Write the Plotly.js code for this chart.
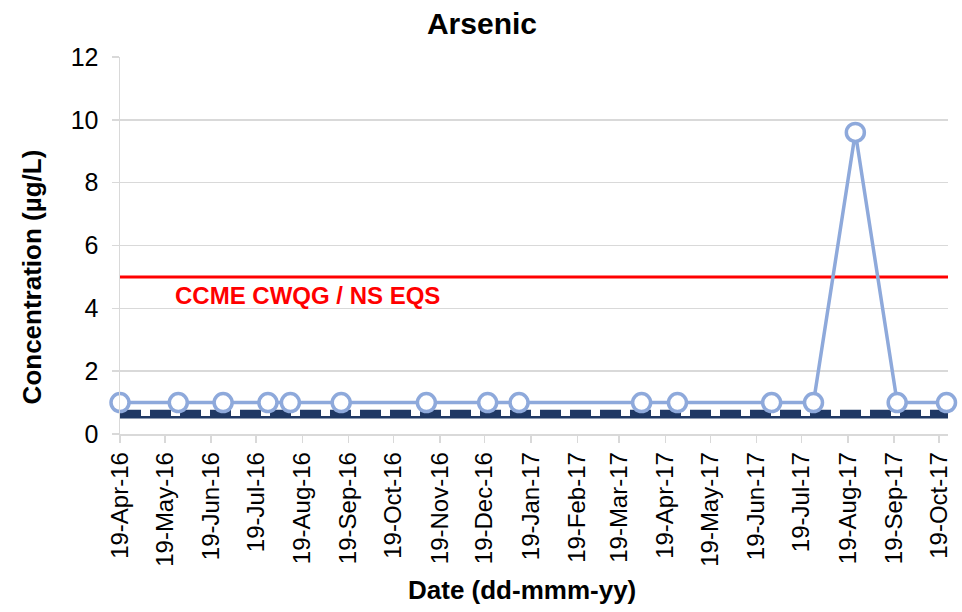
<!DOCTYPE html>
<html>
<head>
<meta charset="utf-8">
<script src="https://cdn.plot.ly/plotly-3.0.1.min.js"></script>
<style>html,body{margin:0;padding:0;background:#fff;}#chart{width:962px;height:612px;}</style>
</head>
<body>
<div id="chart"></div>
<script>
// Sample dates and arsenic concentrations (µg/L)
const sampleDates = ['2016-04-19','2016-05-28','2016-06-27','2016-07-27','2016-08-11','2016-09-14','2016-11-10','2016-12-21','2017-01-11','2017-04-03','2017-04-27','2017-06-29','2017-07-27','2017-08-24','2017-09-21','2017-10-24'];
const arsenic = [1,1,1,1,1,1,1,1,1,1,1,1,1,9.6,1,1];

// Axis extent (dates)
const axisStart = '2016-04-19';
const axisEnd = '2017-10-25';

// Guideline and detection limit lines
const guidelineX = [axisStart, axisEnd];
const guidelineY = [5, 5];
const detectDashY = [0.66, 0.66];
const detectSolidY = [0.53, 0.53];

const guidelineLabel = 'CCME CWQG / NS EQS';
const chartTitle = 'Arsenic';
const xTitle = 'Date (dd-mmm-yy)';
const yTitle = 'Concentration (µg/L)';
const yTickVals = [0,2,4,6,8,10,12];

const font = 'Liberation Sans, Arial, sans-serif';

const traces = [
  {x: guidelineX, y: detectSolidY, mode: 'lines', line: {color: '#1F3864', width: 2.5}, hoverinfo: 'skip', showlegend: false},
  {x: guidelineX, y: detectDashY, mode: 'lines', line: {color: '#1F3864', width: 7, dash: '21px,9px'}, hoverinfo: 'skip', showlegend: false},
  {x: guidelineX, y: guidelineY, mode: 'lines', line: {color: '#FF0000', width: 3}, hoverinfo: 'skip', showlegend: false},
  {x: sampleDates, y: arsenic, mode: 'lines+markers', cliponaxis: false,
   line: {color: '#8EA9DB', width: 3.5},
   marker: {symbol: 'circle', size: 18, color: '#FFFFFF', line: {color: '#8EA9DB', width: 3.5}},
   showlegend: false}
];

const layout = {
  width: 962, height: 612,
  margin: {l: 120, r: 14, t: 57, b: 178},
  paper_bgcolor: '#fff', plot_bgcolor: '#fff',
  font: {family: font, color: '#000'},
  title: {text: '<b>' + chartTitle + '</b>', font: {family: font, size: 30, color: '#000'}, x: 0.501, xanchor: 'center', y: 0.961, yanchor: 'middle'},
  xaxis: {
    type: 'date', range: [axisStart, axisEnd],
    tick0: axisStart, dtick: 'M1', tickformat: '%d-%b-%y', tickangle: -90,
    tickfont: {family: font, size: 24, color: '#000'},
    ticks: 'outside', ticklen: 7, tickcolor: '#D9D9D9', tickwidth: 1.5,
    showgrid: false, showline: true, linecolor: '#D9D9D9', linewidth: 1.5, zeroline: false
  },
  yaxis: {
    range: [0, 12], tickvals: yTickVals,
    tickfont: {family: font, size: 25, color: '#000'},
    ticks: 'outside', ticklen: 7, tickcolor: '#D9D9D9', tickwidth: 1.5, ticklabelstandoff: 8,
    showgrid: true, gridcolor: '#D9D9D9', gridwidth: 1.5,
    showline: true, linecolor: '#D9D9D9', linewidth: 1.5, zeroline: false
  },
  annotations: [
    {text: '<b>' + guidelineLabel + '</b>', xref: 'paper', yref: 'y', x: 0.064, y: 4.4, xanchor: 'left', yanchor: 'middle', showarrow: false,
     font: {family: font, size: 24, color: '#FF0000'}},
    {text: '<b>' + xTitle + '</b>', xref: 'paper', yref: 'paper', x: 0.486, y: -0.414, xanchor: 'center', yanchor: 'middle', showarrow: false,
     font: {family: font, size: 26, color: '#000'}},
    {text: '<b>' + yTitle + '</b>', xref: 'paper', yref: 'paper', x: -0.106, y: 0.416, xanchor: 'center', yanchor: 'middle', textangle: -90, showarrow: false,
     font: {family: font, size: 26, color: '#000'}}
  ]
};

Plotly.newPlot('chart', traces, layout, {displayModeBar: false, staticPlot: true});
</script>
</body>
</html>
